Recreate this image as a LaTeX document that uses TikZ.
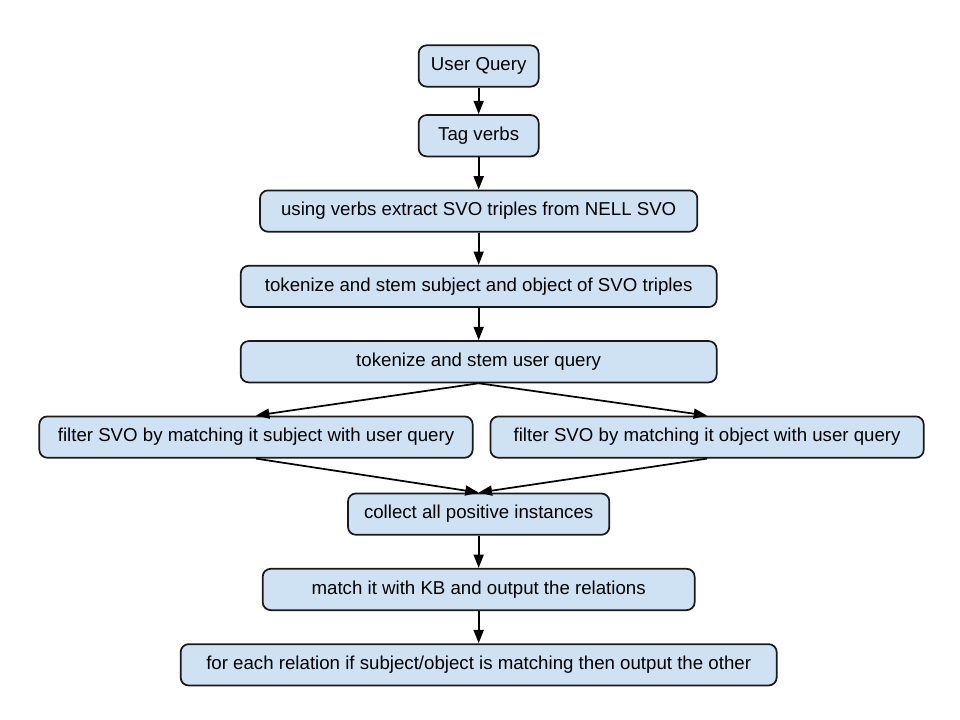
\documentclass[tikz,border=0pt]{standalone}
\usepackage{fontspec}
\setmainfont{Liberation Sans}
\usetikzlibrary{arrows.meta,positioning}
\definecolor{qblue}{HTML}{CFE2F3}

\begin{document}
\begin{tikzpicture}[
  node distance=24.2pt,
  stage/.style={draw=black!90,fill=qblue,rounded corners=6pt,line width=1.3pt,minimum height=31pt,inner sep=2pt,font=\fontsize{14}{16}\selectfont},
  flow/.style={line width=1.3pt,-{Triangle[length=10pt,width=7.5pt]}}
]
  \useasboundingbox (0,0) rectangle (720pt,-540pt);

  \node[stage,minimum width=90pt] (Q) at (359pt,-49.5pt) {User Query};
  \node[stage,minimum width=90pt,below=20pt of Q] (T) {Tag verbs};
  \node[stage,minimum width=328pt,below=of T] (E) {using verbs extract SVO triples from NELL SVO};
  \node[stage,minimum width=357pt,below=of E] (S) {tokenize and stem subject and object of SVO triples};
  \node[stage,minimum width=357pt,below=of S] (U) {tokenize and stem user query};
  \node[stage,minimum width=325pt,below=of U,xshift=-167pt] (FS) {filter SVO by matching it subject with user query};
  \node[stage,minimum width=325pt,right=12pt of FS] (FO) {filter SVO by matching it object with user query};
  \node[stage,minimum width=196pt,below=82pt of U] (C) {collect all positive instances};
  \node[stage,minimum width=324pt,below=of C] (M) {match it with KB and output the relations};
  \node[stage,minimum width=447pt,below=of M] (R) {for each relation if subject/object is matching then output the other};

  \draw[flow] (Q) -- (T);
  \draw[flow] (T) -- (E);
  \draw[flow] (E) -- (S);
  \draw[flow] (S) -- (U);
  \draw[flow] (U.south) -- (FS.north);
  \draw[flow] (U.south) -- (FO.north);
  \draw[flow] (FS.south) -- (C.north);
  \draw[flow] (FO.south) -- (C.north);
  \draw[flow] (C) -- (M);
  \draw[flow] (M) -- (R);
\end{tikzpicture}
\end{document}
